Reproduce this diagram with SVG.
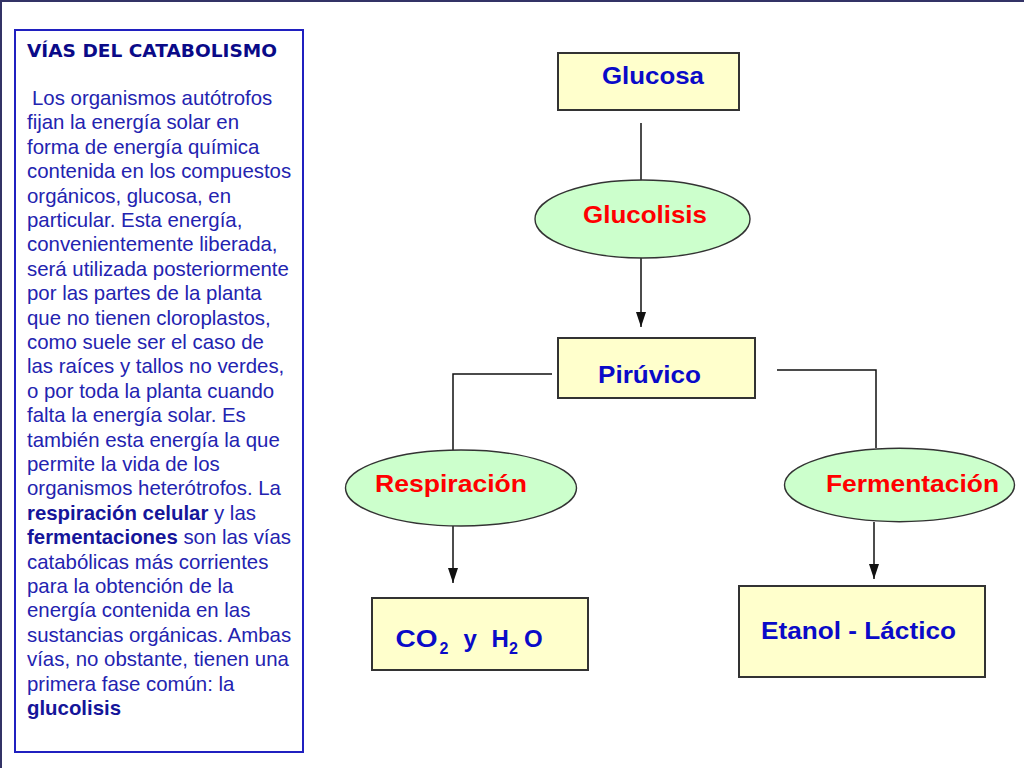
<svg xmlns="http://www.w3.org/2000/svg" width="1024" height="768" viewBox="0 0 1024 768">
<defs>
<style>
.body{font-family:"Liberation Sans",Arial,sans-serif;font-size:20.4px;fill:#2323b0}
.b{font-weight:bold;fill:#15159a}
.title{font-family:"DejaVu Sans",Verdana,sans-serif;font-size:17px;font-weight:bold;fill:#0a0a88}
.box{fill:#ffffcc;stroke:#333333;stroke-width:2}
.ell{fill:#ccffcc;stroke:#333333;stroke-width:1.4}
.lbl{font-family:"Liberation Sans",Arial,sans-serif;font-size:24px;font-weight:bold;fill:#0a0ac8}
.red{font-family:"Liberation Sans",Arial,sans-serif;font-size:24px;font-weight:bold;fill:#ff0000}
.sub{font-size:16px}
.conn{fill:none;stroke:#111111;stroke-width:1.5}
</style>
<marker id="arr" viewBox="0 0 15 10" refX="15" refY="5" markerWidth="15" markerHeight="10" markerUnits="userSpaceOnUse" orient="auto">
<path d="M0,0 L15,5 L0,10 z" fill="#111111"/>
</marker>
</defs>
<rect width="1024" height="768" fill="#ffffff"/>
<path d="M0,1 H1024 M1,0 V768" stroke="#333366" stroke-width="2" fill="none"/>

<g id="textbox">
<rect x="15" y="30" width="288" height="722" fill="#ffffff" stroke="#2020c0" stroke-width="2"/>
<text class="title" x="27" y="57" textLength="250" lengthAdjust="spacingAndGlyphs">VÍAS DEL CATABOLISMO</text>
<text class="body">
<tspan x="32" y="105">Los organismos autótrofos</tspan>
<tspan x="27" y="129.4">fijan la energía solar en</tspan>
<tspan x="27" y="153.8">forma de energía química</tspan>
<tspan x="27" y="178.2">contenida en los compuestos</tspan>
<tspan x="27" y="202.6">orgánicos, glucosa, en</tspan>
<tspan x="27" y="227">particular. Esta energía,</tspan>
<tspan x="27" y="251.4">convenientemente liberada,</tspan>
<tspan x="27" y="275.8">será utilizada posteriormente</tspan>
<tspan x="27" y="300.2">por las partes de la planta</tspan>
<tspan x="27" y="324.6">que no tienen cloroplastos,</tspan>
<tspan x="27" y="349">como suele ser el caso de</tspan>
<tspan x="27" y="373.4">las raíces y tallos no verdes,</tspan>
<tspan x="27" y="397.8">o por toda la planta cuando</tspan>
<tspan x="27" y="422.2">falta la energía solar. Es</tspan>
<tspan x="27" y="446.6">también esta energía la que</tspan>
<tspan x="27" y="471">permite la vida de los</tspan>
<tspan x="27" y="495.4">organismos heterótrofos. La</tspan>
<tspan x="27" y="519.8" class="b">respiración celular</tspan><tspan> y las</tspan>
<tspan x="27" y="544.2" class="b">fermentaciones</tspan><tspan> son las vías</tspan>
<tspan x="27" y="568.6">catabólicas más corrientes</tspan>
<tspan x="27" y="593">para la obtención de la</tspan>
<tspan x="27" y="617.4">energía contenida en las</tspan>
<tspan x="27" y="641.8">sustancias orgánicas. Ambas</tspan>
<tspan x="27" y="666.2">vías, no obstante, tienen una</tspan>
<tspan x="27" y="690.6">primera fase común: la</tspan>
<tspan x="27" y="715" class="b">glucolisis</tspan>
</text>
</g>

<g id="connectors">
<path class="conn" d="M641,123 V180"/>
<path class="conn" d="M641,258 V327" marker-end="url(#arr)"/>
<path class="conn" d="M552,374 H453 V450"/>
<path class="conn" d="M777,370 H876 V448"/>
<path class="conn" d="M453,526 V583" marker-end="url(#arr)"/>
<path class="conn" d="M874,522 V579" marker-end="url(#arr)"/>
</g>

<g id="glucosa">
<rect class="box" x="558" y="53" width="181" height="57"/>
<text class="lbl" x="602" y="84" textLength="102" lengthAdjust="spacingAndGlyphs">Glucosa</text>
</g>

<g id="glucolisis">
<ellipse class="ell" cx="642.5" cy="219" rx="107.5" ry="39"/>
<text class="red" x="583" y="223" textLength="124" lengthAdjust="spacingAndGlyphs">Glucolisis</text>
</g>

<g id="piruvico">
<rect class="box" x="558" y="338" width="197" height="60"/>
<text class="lbl" x="598" y="383" textLength="103" lengthAdjust="spacingAndGlyphs">Pirúvico</text>
</g>

<g id="respiracion">
<ellipse class="ell" cx="461" cy="488" rx="115.5" ry="38"/>
<text class="red" x="375" y="492" textLength="152" lengthAdjust="spacingAndGlyphs">Respiración</text>
</g>

<g id="fermentacion">
<ellipse class="ell" cx="899.5" cy="485" rx="115" ry="36.7"/>
<text class="red" x="826" y="492" textLength="173" lengthAdjust="spacingAndGlyphs">Fermentación</text>
</g>

<g id="co2h2o">
<rect class="box" x="372" y="598" width="216" height="72"/>
<text class="lbl"><tspan x="395.5" y="646.5" textLength="42" lengthAdjust="spacingAndGlyphs">CO</tspan><tspan class="sub" x="439.5" y="653.5">2</tspan><tspan x="463.5" y="646.5">y</tspan><tspan x="491.5" y="646.5">H</tspan><tspan class="sub" x="509" y="653.5">2</tspan><tspan x="524" y="646.5">O</tspan></text>
</g>

<g id="etanol">
<rect class="box" x="739" y="586" width="246" height="91"/>
<text class="lbl" x="761" y="638.5" textLength="195" lengthAdjust="spacingAndGlyphs">Etanol - Láctico</text>
</g>
</svg>
